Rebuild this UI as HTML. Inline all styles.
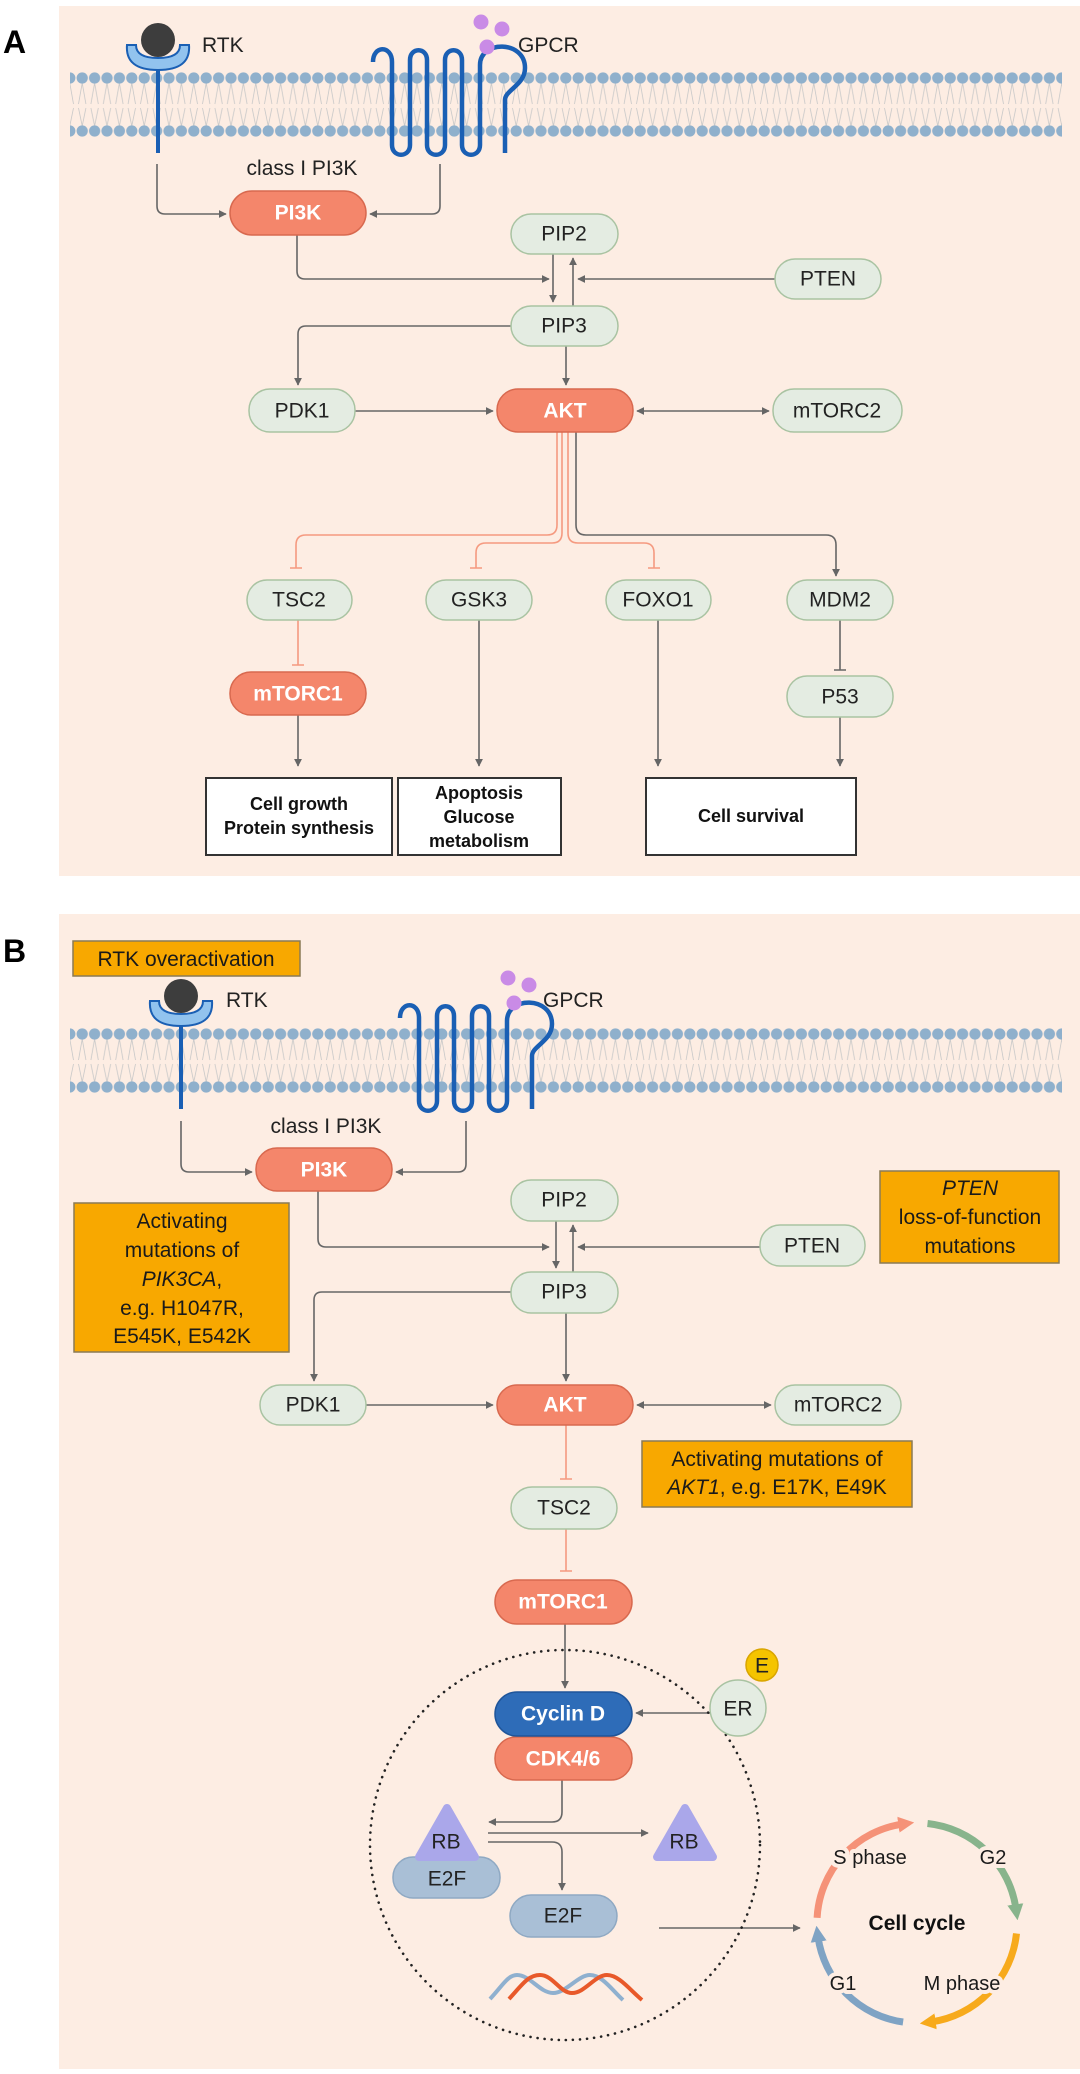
<!DOCTYPE html>
<html><head><meta charset="utf-8"><style>
html,body{margin:0;padding:0;background:#fff;}
svg{display:block;font-family:"Liberation Sans",Arial,sans-serif;}
</style></head><body>
<svg width="1080" height="2074" viewBox="0 0 1080 2074" xmlns="http://www.w3.org/2000/svg">
<defs>
<marker id="ar" viewBox="0 0 10 10" refX="9" refY="5" markerWidth="8" markerHeight="8" markerUnits="userSpaceOnUse" orient="auto-start-reverse"><path d="M0,0 L10,5 L0,10 z" fill="#666"/></marker>
<pattern id="memA" x="76" y="70" width="12.4" height="70" patternUnits="userSpaceOnUse">
<path d="M6.2,13 L2.5,34 M6.2,13 L9.9,34 M2.5,38 L6.2,56 M9.9,38 L6.2,56" stroke="#c8c8c8" stroke-width="0.8" fill="none"/>
<circle cx="6.2" cy="8" r="5.6" fill="#8fb0cc"/><circle cx="6.2" cy="61" r="5.6" fill="#8fb0cc"/>
</pattern>
<pattern id="memB" x="76" y="1026" width="12.4" height="70" patternUnits="userSpaceOnUse">
<path d="M6.2,13 L2.5,34 M6.2,13 L9.9,34 M2.5,38 L6.2,56 M9.9,38 L6.2,56" stroke="#c8c8c8" stroke-width="0.8" fill="none"/>
<circle cx="6.2" cy="8" r="5.6" fill="#8fb0cc"/><circle cx="6.2" cy="61" r="5.6" fill="#8fb0cc"/>
</pattern>
<marker id="mS" viewBox="0 0 10 10" refX="3" refY="5" markerWidth="16" markerHeight="16" markerUnits="userSpaceOnUse" orient="auto"><path d="M0,0 L10,5 L0,10 z" fill="#f59278"/></marker>
<marker id="mG" viewBox="0 0 10 10" refX="3" refY="5" markerWidth="16" markerHeight="16" markerUnits="userSpaceOnUse" orient="auto"><path d="M0,0 L10,5 L0,10 z" fill="#88b48c"/></marker>
<marker id="mO" viewBox="0 0 10 10" refX="3" refY="5" markerWidth="16" markerHeight="16" markerUnits="userSpaceOnUse" orient="auto"><path d="M0,0 L10,5 L0,10 z" fill="#f7aa1c"/></marker>
<marker id="mB" viewBox="0 0 10 10" refX="3" refY="5" markerWidth="16" markerHeight="16" markerUnits="userSpaceOnUse" orient="auto"><path d="M0,0 L10,5 L0,10 z" fill="#7fa3c4"/></marker>
<g id="rtk">
<path d="M0,68 V153" stroke="#1a5fb4" stroke-width="4"/>
<path d="M-31,45 Q-33,70 0,70 Q33,70 31,45 L22,45 Q22,58 0,58 Q-22,58 -22,45 Z" fill="#92c3ee" stroke="#1a5fb4" stroke-width="2"/>
<circle cx="0" cy="40" r="17" fill="#3d3d3d"/>
</g>
<g id="gpcr">
<path d="M373,62 C373,45 392,45 392,62 L392,145 C392,158 410,158 410,145 L410,60 C410,47 427,47 427,60 L427,145 C427,158 445,158 445,145 L445,60 C445,47 462,47 462,60 L462,145 C462,158 480,158 480,145 L480,65 C480,40 525,40 525,68 C525,85 505,90 505,100 L505,153" fill="none" stroke="#1a5fb4" stroke-width="4.5" stroke-linejoin="round"/>
<circle cx="481" cy="22" r="7.5" fill="#c98be6"/><circle cx="502" cy="29" r="7.5" fill="#c98be6"/><circle cx="487" cy="47" r="7.5" fill="#c98be6"/>
</g>
</defs>

<!-- Panel A -->
<rect x="59" y="6" width="1021" height="870" fill="#fdede3"/>
<text x="3" y="53" font-size="32" font-weight="bold">A</text>
<rect x="70" y="70" width="992" height="70" fill="url(#memA)"/>
<use href="#rtk" x="158" y="0"/>
<use href="#gpcr" x="0" y="0"/>
<g font-size="21" fill="#222">
<text x="202" y="52">RTK</text><text x="518" y="52">GPCR</text>
<text x="302" y="175" text-anchor="middle">class I PI3K</text>
</g>

<g fill="none" stroke="#666" stroke-width="1.6">
<path d="M157,164 V206 Q157,214 165,214 H226" marker-end="url(#ar)"/>
<path d="M440,164 V206 Q440,214 432,214 H370" marker-end="url(#ar)"/>
<path d="M297,235 V271 Q297,279 305,279 H549" marker-end="url(#ar)"/>
<path d="M553,254 V302" marker-end="url(#ar)"/>
<path d="M573,306 V258" marker-end="url(#ar)"/>
<path d="M775,279 H578" marker-end="url(#ar)"/>
<path d="M511,326 H306 Q298,326 298,334 V385" marker-end="url(#ar)"/>
<path d="M566,346 V385" marker-end="url(#ar)"/>
<path d="M355,411 H493" marker-end="url(#ar)"/>
<path d="M637,411 H769" marker-start="url(#ar)" marker-end="url(#ar)"/>
<path d="M576,432 V525 Q576,535 586,535 H826 Q836,535 836,545 V576" marker-end="url(#ar)"/>
<path d="M479,620 V766" marker-end="url(#ar)"/>
<path d="M658,620 V766" marker-end="url(#ar)"/>
<path d="M840,620 V670 M834,670 H846"/>
<path d="M840,717 V766" marker-end="url(#ar)"/>
<path d="M298,715 V766" marker-end="url(#ar)"/>
</g>
<g fill="none" stroke="#f59a80" stroke-width="1.6">
<path d="M557,432 V525 Q557,535 547,535 H306 Q296,535 296,545 V568 M290,568 H302"/>
<path d="M562,432 V533 Q562,543 552,543 H486 Q476,543 476,553 V568 M470,568 H482"/>
<path d="M568,432 V533 Q568,543 578,543 H644 Q654,543 654,553 V568 M648,568 H660"/>
<path d="M298,620 V665 M292,665 H304"/>
</g>

<!-- nodes A -->
<g stroke-width="1.5" font-size="21" text-anchor="middle" dominant-baseline="central">
<g fill="#e4ece2" stroke="#a9c3a2">
<rect x="511" y="214" width="107" height="40" rx="20"/><rect x="775" y="259" width="106" height="40" rx="20"/>
<rect x="511" y="306" width="107" height="40" rx="20"/><rect x="249" y="389" width="106" height="43" rx="21"/>
<rect x="773" y="389" width="129" height="43" rx="21"/><rect x="247" y="580" width="105" height="40" rx="20"/>
<rect x="426" y="580" width="106" height="40" rx="20"/><rect x="606" y="580" width="105" height="40" rx="20"/>
<rect x="787" y="580" width="106" height="40" rx="20"/><rect x="787" y="676" width="106" height="41" rx="20"/>
</g>
<g fill="#f4866b" stroke="#d8694f">
<rect x="230" y="191" width="136" height="44" rx="22"/><rect x="497" y="389" width="136" height="43" rx="21"/>
<rect x="230" y="672" width="136" height="43" rx="21"/>
</g>
<g fill="#222" stroke="none">
<text x="564" y="234">PIP2</text><text x="828" y="279">PTEN</text><text x="564" y="326">PIP3</text>
<text x="302" y="411">PDK1</text><text x="837" y="411">mTORC2</text><text x="299" y="600">TSC2</text>
<text x="479" y="600">GSK3</text><text x="658" y="600">FOXO1</text><text x="840" y="600">MDM2</text><text x="840" y="697">P53</text>
</g>
<g fill="#fff" font-weight="bold" stroke="none">
<text x="298" y="213">PI3K</text><text x="565" y="411">AKT</text><text x="298" y="694">mTORC1</text>
</g>
</g>
<g fill="#fff" stroke="#333" stroke-width="2">
<rect x="206" y="778" width="186" height="77"/><rect x="398" y="778" width="163" height="77"/><rect x="646" y="778" width="210" height="77"/>
</g>
<g font-size="18" font-weight="bold" text-anchor="middle" fill="#111">
<text x="299" y="810">Cell growth</text><text x="299" y="834">Protein synthesis</text>
<text x="479" y="799">Apoptosis</text><text x="479" y="823">Glucose</text><text x="479" y="847">metabolism</text>
<text x="751" y="822">Cell survival</text>
</g>

<!-- Panel B -->
<rect x="59" y="914" width="1021" height="1155" fill="#fdede3"/>
<text x="3" y="962" font-size="32" font-weight="bold">B</text>
<rect x="70" y="1026" width="992" height="70" fill="url(#memB)"/>
<use href="#rtk" x="181" y="956"/>
<use href="#gpcr" x="27" y="956"/>
<g font-size="21" fill="#222">
<text x="226" y="1007">RTK</text><text x="543" y="1007">GPCR</text>
<text x="326" y="1133" text-anchor="middle">class I PI3K</text>
</g>
<g fill="none" stroke="#666" stroke-width="1.6">
<path d="M181,1121 V1164 Q181,1172 189,1172 H252" marker-end="url(#ar)"/>
<path d="M466,1121 V1164 Q466,1172 458,1172 H396" marker-end="url(#ar)"/>
<path d="M318,1191 V1239 Q318,1247 326,1247 H549" marker-end="url(#ar)"/>
<path d="M556,1221 V1268" marker-end="url(#ar)"/>
<path d="M573,1272 V1225" marker-end="url(#ar)"/>
<path d="M760,1247 H578" marker-end="url(#ar)"/>
<path d="M511,1292 H322 Q314,1292 314,1300 V1381" marker-end="url(#ar)"/>
<path d="M566,1313 V1381" marker-end="url(#ar)"/>
<path d="M366,1405 H493" marker-end="url(#ar)"/>
<path d="M637,1405 H771" marker-start="url(#ar)" marker-end="url(#ar)"/>
<path d="M565,1624 V1688" marker-end="url(#ar)"/>
<path d="M710,1713 H636" marker-end="url(#ar)"/>
<path d="M562,1780 V1812 Q562,1822 552,1822 H489" marker-end="url(#ar)"/>
<path d="M488,1833 H648" marker-end="url(#ar)"/>
<path d="M488,1842 H552 Q562,1842 562,1852 V1890" marker-end="url(#ar)"/>
<path d="M659,1928 H800" marker-end="url(#ar)"/>
</g>
<g fill="none" stroke="#f59a80" stroke-width="1.6">
<path d="M566,1425 V1479 M560,1479 H572"/>
<path d="M566,1529 V1571 M560,1571 H572"/>
</g>
<circle cx="565" cy="1845" r="195" fill="none" stroke="#222" stroke-width="2.6" stroke-dasharray="0.1 7" stroke-linecap="round"/>

<!-- orange boxes -->
<g fill="#f8a800" stroke="#8a7a55" stroke-width="1.5">
<rect x="73" y="941" width="227" height="35"/>
<rect x="74" y="1203" width="215" height="149"/>
<rect x="880" y="1171" width="179" height="92"/>
<rect x="642" y="1441" width="270" height="66"/>
</g>
<g font-size="21" fill="#1a1a1a" text-anchor="middle">
<text x="186" y="966">RTK overactivation</text>
<text x="182" y="1228">Activating</text><text x="182" y="1257">mutations of</text>
<text x="182" y="1286"><tspan font-style="italic">PIK3CA</tspan>,</text>
<text x="182" y="1315">e.g. H1047R,</text><text x="182" y="1343">E545K, E542K</text>
<text x="970" y="1195" font-style="italic">PTEN</text><text x="970" y="1224">loss-of-function</text><text x="970" y="1253">mutations</text>
<text x="777" y="1466">Activating mutations of</text>
<text x="777" y="1494"><tspan font-style="italic">AKT1</tspan>, e.g. E17K, E49K</text>
</g>

<!-- nodes B -->
<g stroke-width="1.5" font-size="21" text-anchor="middle" dominant-baseline="central">
<g fill="#e4ece2" stroke="#a9c3a2">
<rect x="511" y="1180" width="107" height="41" rx="20"/><rect x="760" y="1225" width="105" height="41" rx="20"/>
<rect x="511" y="1272" width="107" height="41" rx="20"/><rect x="260" y="1385" width="106" height="40" rx="20"/>
<rect x="775" y="1385" width="126" height="40" rx="20"/><rect x="511" y="1487" width="106" height="42" rx="21"/>
<circle cx="738" cy="1708" r="28"/>
</g>
<g fill="#f4866b" stroke="#d8694f">
<rect x="256" y="1148" width="136" height="43" rx="21"/><rect x="497" y="1385" width="136" height="40" rx="20"/>
<rect x="495" y="1580" width="137" height="44" rx="22"/>
<rect x="495" y="1737" width="137" height="43" rx="21"/>
</g>
<rect x="495" y="1692" width="137" height="44" rx="22" fill="#2e6cb8" stroke="#1f559a"/>
<circle cx="762" cy="1665" r="16" fill="#f5c400" stroke="#d9a500"/>
<rect x="393" y="1857" width="107" height="41" rx="20" fill="#a9bfd6" stroke="#8fa9c3"/>
<rect x="510" y="1895" width="107" height="42" rx="21" fill="#a9bfd6" stroke="#8fa9c3"/>
<path d="M447,1808 L419,1857 L475,1857 Z" fill="#aaa7ea" stroke="#aaa7ea" stroke-width="8" stroke-linejoin="round"/>
<path d="M685,1808 L657,1857 L713,1857 Z" fill="#aaa7ea" stroke="#aaa7ea" stroke-width="8" stroke-linejoin="round"/>
<g fill="#222" stroke="none">
<text x="564" y="1200">PIP2</text><text x="812" y="1246">PTEN</text><text x="564" y="1292">PIP3</text>
<text x="313" y="1405">PDK1</text><text x="838" y="1405">mTORC2</text><text x="564" y="1508">TSC2</text>
<text x="738" y="1709">ER</text><text x="762" y="1666">E</text>
<text x="447" y="1879">E2F</text><text x="563" y="1916">E2F</text>
<text x="446" y="1842">RB</text><text x="684" y="1842">RB</text>
</g>
<g fill="#fff" font-weight="bold" stroke="none">
<text x="324" y="1170">PI3K</text><text x="565" y="1405">AKT</text><text x="563" y="1602">mTORC1</text>
<text x="563" y="1714">Cyclin D</text><text x="563" y="1759">CDK4/6</text>
</g>
</g>

<!-- DNA -->
<path d="M490,1999 C503,1985 508,1975 517,1975 C530,1975 540,1993 553,1993 C566,1993 578,1975 590,1975 C602,1975 612,1990 623,2000" fill="none" stroke="#8fb0cf" stroke-width="4"/>
<path d="M509,1999 C522,1985 528,1975 540,1975 C553,1975 560,1993 572,1993 C585,1993 595,1975 607,1975 C619,1975 630,1990 642,2000" fill="none" stroke="#e8592a" stroke-width="4"/>

<!-- cell cycle -->
<g fill="none" stroke-width="7">
<path d="M817.1,1917.8 A100,100 0 0 1 903.1,1824" stroke="#f59278" marker-end="url(#mS)"/>
<path d="M927.5,1823.5 A100,100 0 0 1 1016,1909.1" stroke="#88b48c" marker-end="url(#mG)"/>
<path d="M1016.5,1933.5 A100,100 0 0 1 930.9,2022" stroke="#f7aa1c" marker-end="url(#mO)"/>
<path d="M903.1,2022 A100,100 0 0 1 818,1936.9" stroke="#7fa3c4" marker-end="url(#mB)"/>
</g>
<g font-size="20" fill="#1a1a1a" text-anchor="middle" stroke="#fdede3" stroke-width="8" paint-order="stroke" stroke-linejoin="round">
<text x="870" y="1864">S phase</text><text x="993" y="1864">G2</text>
<text x="843" y="1990">G1</text><text x="962" y="1990">M phase</text>
</g>
<text x="917" y="1930" font-size="21" font-weight="bold" text-anchor="middle" fill="#111">Cell cycle</text>
</svg>
</body></html>
